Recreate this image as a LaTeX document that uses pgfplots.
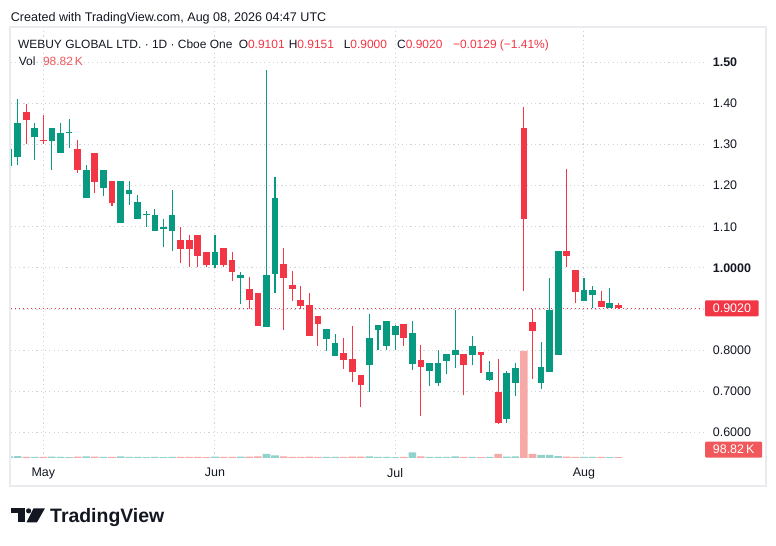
\documentclass[border=0pt]{standalone}
\usepackage{fontspec}
\setmainfont{Liberation Sans}
\usepackage{pgfplots}
\usepackage{pgfplotstable}
\pgfplotsset{compat=1.18}
\definecolor{tvgreen}{HTML}{089981}
\definecolor{tvred}{HTML}{F23645}
\definecolor{tvgreenv}{HTML}{92D2CC}
\definecolor{tvredv}{HTML}{F7A9A7}
\definecolor{tvgrid}{HTML}{CFD2D8}
\definecolor{tvtext}{HTML}{131722}
\definecolor{tvframe}{HTML}{E9EBEF}
\definecolor{tvvolred}{HTML}{F0585B}

% up (green) candles: index, open, high, low, close, volume (K)
\pgfplotstableread{
i o h l c v
0 1.247 1.290 1.247 1.290 150
1 1.269 1.410 1.250 1.351 180
3 1.318 1.351 1.261 1.339 110
5 1.308 1.339 1.239 1.339 130
6 1.280 1.351 1.280 1.329 120
7 1.327 1.361 1.291 1.330 90
9 1.169 1.249 1.169 1.239 150
11 1.193 1.239 1.174 1.239 110
13 1.108 1.210 1.108 1.210 160
14 1.179 1.210 1.154 1.190 100
15 1.118 1.176 1.118 1.159 110
16 1.128 1.139 1.100 1.131 90
17 1.089 1.144 1.089 1.129 100
18 1.094 1.120 1.050 1.100 80
19 1.089 1.190 1.040 1.129 120
24 1.008 1.080 1.000 1.039 130
27 0.976 0.990 0.913 0.983 140
30 0.856 1.480 0.856 0.983 420
31 0.986 1.220 0.940 1.171 250
37 0.827 0.851 0.798 0.851 100
38 0.785 0.839 0.785 0.817 110
42 0.763 0.888 0.698 0.829 160
43 0.849 0.860 0.800 0.860 100
44 0.810 0.872 0.800 0.870 110
45 0.837 0.861 0.800 0.858 90
47 0.767 0.870 0.751 0.841 550
49 0.749 0.770 0.713 0.770 110
50 0.720 0.800 0.713 0.768 120
51 0.774 0.790 0.741 0.790 100
52 0.788 0.897 0.757 0.800 150
54 0.788 0.834 0.763 0.809 100
56 0.728 0.774 0.724 0.747 110
58 0.633 0.750 0.624 0.745 130
59 0.719 0.769 0.689 0.757 150
62 0.719 0.820 0.706 0.759 320
63 0.747 0.975 0.747 0.898 300
64 0.789 1.041 0.789 1.041 180
67 0.919 0.975 0.919 0.947 110
68 0.933 0.955 0.902 0.947 100
70 0.902 0.950 0.902 0.915 90
}\up

% down (red) candles
\pgfplotstableread{
i o h l c v
2 1.380 1.399 1.300 1.359 120
4 1.312 1.371 1.300 1.308 100
8 1.290 1.310 1.230 1.237 140
10 1.280 1.280 1.181 1.208 130
12 1.210 1.210 1.150 1.157 120
20 1.068 1.100 1.013 1.047 110
21 1.068 1.080 1.001 1.047 100
22 1.080 1.080 1.001 1.028 120
23 1.039 1.039 1.001 1.008 90
25 1.049 1.049 1.001 1.008 100
26 1.020 1.039 0.969 0.989 120
28 0.949 0.978 0.900 0.923 130
29 0.939 0.939 0.859 0.859 150
32 1.010 1.049 0.850 0.976 160
33 0.959 0.993 0.920 0.949 120
34 0.922 0.956 0.900 0.907 110
35 0.910 0.939 0.834 0.834 140
36 0.883 0.883 0.810 0.863 120
39 0.793 0.829 0.754 0.776 100
40 0.778 0.859 0.722 0.746 130
41 0.739 0.739 0.661 0.715 140
46 0.863 0.863 0.810 0.830 120
48 0.775 0.812 0.639 0.759 160
53 0.790 0.790 0.691 0.764 110
55 0.795 0.795 0.745 0.788 90
57 0.698 0.779 0.621 0.624 400
60 1.340 1.391 0.945 1.119 10700
61 0.869 0.900 0.731 0.847 420
65 1.041 1.241 1.001 1.028 140
66 0.996 0.996 0.914 0.941 120
69 0.920 0.945 0.904 0.904 100
71 0.9101 0.9151 0.9000 0.9020 98.82
}\dn

\begin{document}
\begin{tikzpicture}[x=1bp,y=1bp]
\useasboundingbox (0,0) rectangle (776,546);
\fill[white] (0,0) rectangle (776,546);

\begin{axis}[
  at={(10.5bp,88bp)}, anchor=south west, scale only axis,
  width=692.5bp, height=430bp,
  xmin=0.175, xmax=80.87, ymin=0.5379, ymax=1.5831,
  axis line style={draw=none}, tick style={draw=none},
  ytick={0.6,0.7,0.8,0.9,1.0,1.1,1.2,1.3,1.4,1.5},
  yticklabels={0.6000,0.7000,0.8000,,\textbf{1.0000},1.10,1.20,1.30,1.40,\textbf{1.50}},
  yticklabel pos=right,
  yticklabel style={anchor=west, inner sep=0pt, xshift=9.7bp, font=\fontsize{12.5}{14}\selectfont, text=tvtext},
  xtick={4,24,45,67}, xticklabels={May,Jun,Jul,Aug},
  xticklabel style={anchor=north, inner sep=0pt, yshift=-10bp, font=\fontsize{12.5}{14}\selectfont, text=tvtext},
  xmajorgrids, ymajorgrids,
  grid style={tvgrid, line width=1bp, dash pattern=on 1.2bp off 3.1bp},
  candle/.style={draw=none, no markers, forget plot,
    error bars/y dir=plus, error bars/y explicit, error bars/error mark=none},
]
% last price line
\addplot[tvred, line width=1bp, dash pattern=on 1.3bp off 2.7bp, forget plot] coordinates {(0.175,0.902) (80.87,0.902)};
% wicks
\addplot[candle, error bars/error bar style={draw=tvgreen, solid, line width=1.1bp}]
  table[x=i, y=l, y error plus expr=\thisrow{h}-\thisrow{l}] {\up};
\addplot[candle, error bars/error bar style={draw=tvred, solid, line width=1.1bp}]
  table[x=i, y=l, y error plus expr=\thisrow{h}-\thisrow{l}] {\dn};
% bodies
\addplot[candle, error bars/error bar style={draw=tvgreen, solid, line width=6.7bp}]
  table[x=i, y=o, y error plus expr=\thisrow{c}-\thisrow{o}] {\up};
\addplot[candle, error bars/error bar style={draw=tvred, solid, line width=6.7bp}]
  table[x=i, y=c, y error plus expr=\thisrow{o}-\thisrow{c}] {\dn};
\end{axis}

\begin{axis}[
  at={(10.5bp,88bp)}, anchor=south west, scale only axis,
  width=692.5bp, height=430bp,
  xmin=0.175, xmax=80.87, ymin=0, ymax=43000,
  hide axis, ybar, bar width=7.6bp,
]
\addplot[ybar, bar shift=0pt, fill=tvgreenv, draw=none] table[x=i, y=v] {\up};
\addplot[ybar, bar shift=0pt, fill=tvredv, draw=none] table[x=i, y=v] {\dn};
\end{axis}

\begin{scope}[yshift=546bp, y={(0bp,-1bp)}]
% frame
\draw[tvframe, line width=1.6bp] (10,27) rectangle (766,486);
% header
\node[anchor=base west, inner sep=0pt, font=\fontsize{12.6}{14}\selectfont, text=tvtext] at (10.7,22) {Created with TradingView.com, Aug 08, 2026 04:47 UTC};
\begin{scope}[every node/.style={anchor=base west, inner sep=0pt, font=\fontsize{12}{14}\selectfont, text=tvtext}]
\node at (17.9,49) {WEBUY GLOBAL LTD. · 1D · Cboe One};
\node at (238.6,49) {O\textcolor{tvred}{0.9101}};
\node at (288.6,49) {H\textcolor{tvred}{0.9151}};
\node at (343.6,49) {L\textcolor{tvred}{0.9000}};
\node at (397,49) {C\textcolor{tvred}{0.9020}};
\node[text=tvred] at (452.9,49) {−0.0129 (−1.41\%)};
\node at (18.6,65.3) {Vol};
\node[text=tvvolred] at (42.9,65.3) {98.82\,K};
\end{scope}
% price labels
\node[fill=tvred, text=white, anchor=west, minimum height=16bp, inner xsep=7.7bp, inner ysep=0pt, rounded corners=1bp, font=\fontsize{12.5}{14}\selectfont] at (705,308.3) {0.9020};
\node[fill=tvvolred, text=white, anchor=west, minimum height=16bp, inner xsep=7.7bp, inner ysep=0pt, rounded corners=1bp, font=\fontsize{12.5}{14}\selectfont] at (705,449.7) {98.82\,K};
% logo
\fill[tvtext] (11,508.3) rectangle (25,513.3);
\fill[tvtext] (18,508.3) rectangle (25,522.3);
\fill[tvtext] (28.6,510.9) circle (2.6);
\fill[tvtext] (33.5,508.3) -- (45,508.3) -- (37,522.3) -- (26.5,522.3) -- cycle;
\node[anchor=base west, inner sep=0pt, font=\bfseries\fontsize{19.5}{22}\selectfont, text=tvtext] at (50,522.3) {TradingView};
\end{scope}
\end{tikzpicture}
\end{document}
